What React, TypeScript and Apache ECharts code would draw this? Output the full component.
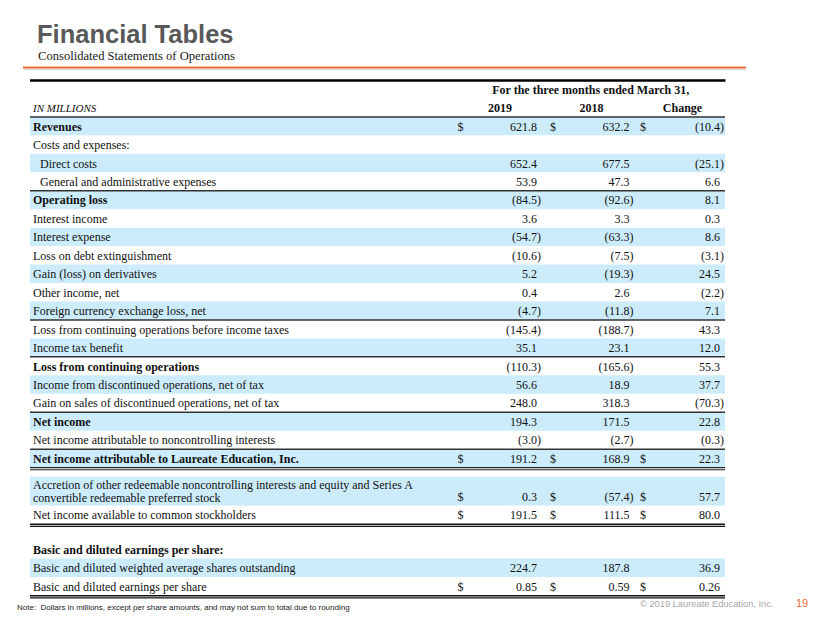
import React, { useEffect, useRef } from "react";
import * as echarts from "echarts";

// ---------- DATA ----------
const rowLabels: string[] = [
  "Revenues",
  "Costs and expenses:",
  "Direct costs",
  "General and administrative expenses",
  "Operating loss",
  "Interest income",
  "Interest expense",
  "Loss on debt extinguishment",
  "Gain (loss) on derivatives",
  "Other income, net",
  "Foreign currency exchange loss, net",
  "Loss from continuing operations before income taxes",
  "Income tax benefit",
  "Loss from continuing operations",
  "Income from discontinued operations, net of tax",
  "Gain on sales of discontinued operations, net of tax",
  "Net income",
  "Net income attributable to noncontrolling interests",
  "Net income attributable to Laureate Education, Inc.",
  "Accretion of other redeemable noncontrolling interests and equity and Series A\nconvertible redeemable preferred stock",
  "Net income available to common stockholders",
  "Basic and diluted earnings per share:",
  "Basic and diluted weighted average shares outstanding",
  "Basic and diluted earnings per share",
];
const values2019: (number | null)[] = [
  621.8, null, 652.4, 53.9, -84.5, 3.6, -54.7, -10.6, 5.2, 0.4, -4.7, -145.4, 35.1, -110.3, 56.6, 248.0, 194.3, -3.0, 191.2,
  0.3, 191.5, null, 224.7, 0.85,
];
const values2018: (number | null)[] = [
  632.2, null, 677.5, 47.3, -92.6, 3.3, -63.3, -7.5, -19.3, 2.6, -11.8, -188.7, 23.1, -165.6, 18.9, 318.3, 171.5, -2.7, 168.9,
  -57.4, 111.5, null, 187.8, 0.59,
];
const valuesChange: (number | null)[] = [
  -10.4, null, -25.1, 6.6, 8.1, 0.3, 8.6, -3.1, 24.5, -2.2, 7.1, 43.3, 12.0, 55.3, 37.7, -70.3, 22.8, -0.3, 22.3, 57.7,
  80.0, null, 36.9, 0.26,
];
const columnHeaders: string[] = ["2019", "2018", "Change"];
const periodHeader = "For the three months ended March 31,";
const unitsLabel = "IN MILLIONS";
const boldRows: number[] = [0, 4, 13, 16, 18, 21];
const indentRows: number[] = [2, 3];
const shadedRows: number[] = [0, 2, 4, 6, 8, 10, 12, 14, 16, 18, 19, 22];
const dollarRows: number[] = [0, 18, 19, 20, 23];
const twoDecimalRows: number[] = [23];
const titleText = "Financial Tables";
const subtitleText = "Consolidated Statements of Operations";
const noteText = "Note:  Dollars in millions, except per share amounts, and may not sum to total due to rounding";
const copyrightText = "\u00A9 2019 Laureate Education, Inc.";
const pageNumber = "19";

// ---------- LAYOUT (row units) ----------
const rowHeights = rowLabels.map((l) => (l.includes("\n") ? 1.56 : 1));
const gapBefore: Record<number, number> = { 19: 0.5, 21: 0.87 };
const ruleAbove: number[] = [0, 4, 11, 13, 16, 18];
const ruleBelow: Record<number, string> = { 18: "double", 20: "thick", 23: "thick" };
const rowTops: number[] = [];
{
  let acc = 0;
  rowHeights.forEach((h, i) => {
    acc += gapBefore[i] || 0;
    rowTops.push(acc);
    acc += h;
  });
}
const totalUnits = rowTops[rowTops.length - 1] + rowHeights[rowHeights.length - 1];

const SERIF = "'Liberation Serif', 'Times New Roman', serif";
const SANS = "'Liberation Sans', Arial, sans-serif";
const SHADE = "#CCECFC";
const INK = "#111111";
const TABLE_LEFT = 30;
const TABLE_RIGHT = 725;
const colDollarX = [457.5, 550, 640];
const colRightX = [537, 629.5, 720];
const colCenterX = [500, 591.5, 682.5];

function fmt(v: number, dec: number): string {
  const s = Math.abs(v).toFixed(dec);
  return v < 0 ? `(${s})` : s;
}

export default function App() {
  const ref = useRef<HTMLDivElement>(null);
  useEffect(() => {
    if (!ref.current) return;
    const chart = echarts.init(ref.current, undefined, { renderer: "svg" });
    const cols = [values2019, values2018, valuesChange];

    const option: any = {
      animation: false,
      backgroundColor: "#ffffff",
      grid: { left: TABLE_LEFT, right: 830 - TABLE_RIGHT, top: 80, bottom: 623 - 595.5 },
      xAxis: { type: "value", min: TABLE_LEFT, max: TABLE_RIGHT, show: false },
      yAxis: { type: "value", min: -2, max: totalUnits, inverse: true, show: false },
      series: [
        {
          type: "custom",
          clip: false,
          data: rowLabels.map((_, i) => [i]),
          renderItem: (params: any, api: any) => {
            const i = api.value(0) as number;
            const top = rowTops[i];
            const h = rowHeights[i];
            const pTop = api.coord([TABLE_LEFT, top]);
            const pBot = api.coord([TABLE_RIGHT, top + h]);
            const x0 = pTop[0];
            const x1 = pBot[0];
            const y0 = pTop[1];
            const y1 = pBot[1];
            const mid = (y0 + y1) / 2;
            const children: any[] = [];
            const bold = boldRows.includes(i);
            const font = `${bold ? "bold " : ""}12px ${SERIF}`;
            if (shadedRows.includes(i)) {
              children.push({
                type: "rect",
                z2: 0,
                shape: { x: x0, y: y0, width: x1 - x0, height: y1 - y0 },
                style: { fill: SHADE },
              });
            }
            const twoLine = rowLabels[i].includes("\n");
            children.push({
              type: "text",
              z2: 5,
              style: {
                text: rowLabels[i],
                x: x0 + (indentRows.includes(i) ? 10 : 3),
                y: mid + 0.5,
                font,
                fill: INK,
                align: "left",
                verticalAlign: "middle",
                lineHeight: 13,
              },
            });
            const valY = twoLine ? y1 - 8.5 : mid + 0.5;
            const dec = twoDecimalRows.includes(i) ? 2 : 1;
            cols.forEach((arr, c) => {
              const v = arr[i];
              if (v === null || v === undefined) return;
              children.push({
                type: "text",
                z2: 5,
                style: {
                  text: fmt(v, dec),
                  x: colRightX[c] + (v < 0 ? 4 : 0),
                  y: valY,
                  font: `12px ${SERIF}`,
                  fill: INK,
                  align: "right",
                  verticalAlign: "middle",
                },
              });
              if (dollarRows.includes(i)) {
                children.push({
                  type: "text",
                  z2: 5,
                  style: {
                    text: "$",
                    x: colDollarX[c],
                    y: valY,
                    font: `12px ${SERIF}`,
                    fill: INK,
                    align: "left",
                    verticalAlign: "middle",
                  },
                });
              }
            });
            if (ruleAbove.includes(i)) {
              children.push({
                type: "line",
                z2: 10,
                shape: { x1: x0, y1: y0, x2: x1, y2: y0 },
                style: { stroke: "#333333", lineWidth: 1.5 },
              });
            }
            const rb = ruleBelow[i];
            if (rb === "double") {
              children.push({
                type: "line",
                z2: 10,
                shape: { x1: x0, y1: y1, x2: x1, y2: y1 },
                style: { stroke: "#222222", lineWidth: 1.2 },
              });
              children.push({
                type: "line",
                z2: 10,
                shape: { x1: x0, y1: y1 + 2.2, x2: x1, y2: y1 + 2.2 },
                style: { stroke: "#222222", lineWidth: 1 },
              });
            } else if (rb === "thick") {
              children.push({
                type: "line",
                z2: 10,
                shape: { x1: x0, y1: y1 + 0.2, x2: x1, y2: y1 + 0.2 },
                style: { stroke: "#111111", lineWidth: 1.5 },
              });
              children.push({
                type: "line",
                z2: 10,
                shape: { x1: x0, y1: y1 + 2.4, x2: x1, y2: y1 + 2.4 },
                style: { stroke: "#111111", lineWidth: 1.2 },
              });
            }
            if (i === 0) {
              const hp = api.coord([TABLE_LEFT, -1.46]);
              const yp = api.coord([TABLE_LEFT, -0.48]);
              children.push({
                type: "text",
                z2: 5,
                style: {
                  text: periodHeader,
                  x: (colCenterX[0] + colCenterX[2]) / 2 - 0.5,
                  y: hp[1],
                  font: `bold 12px ${SERIF}`,
                  fill: INK,
                  align: "center",
                  verticalAlign: "middle",
                },
              });
              columnHeaders.forEach((t, c) => {
                children.push({
                  type: "text",
                  z2: 5,
                  style: {
                    text: t,
                    x: colCenterX[c],
                    y: yp[1],
                    font: `bold 12px ${SERIF}`,
                    fill: INK,
                    align: "center",
                    verticalAlign: "middle",
                  },
                });
              });
              children.push({
                type: "text",
                z2: 5,
                style: {
                  text: unitsLabel,
                  x: x0 + 3,
                  y: yp[1],
                  font: `italic 11px ${SERIF}`,
                  fill: INK,
                  align: "left",
                  verticalAlign: "middle",
                },
              });
            }
            return { type: "group", children };
          },
        },
      ],
      graphic: [
        {
          type: "text",
          x: 37,
          y: 33.5,
          style: {
            text: titleText,
            font: `bold 25.5px ${SANS}`,
            fill: "#595959",
            align: "left",
            verticalAlign: "middle",
          },
        },
        {
          type: "text",
          x: 38,
          y: 55.5,
          style: {
            text: subtitleText,
            font: `12.6px ${SERIF}`,
            fill: "#1a1a1a",
            align: "left",
            verticalAlign: "middle",
          },
        },
        {
          type: "line",
          shape: { x1: 24, y1: 69.5, x2: 746, y2: 69.5 },
          style: { stroke: "#cccccc", lineWidth: 1.5, opacity: 0.7 },
        },
        {
          type: "line",
          shape: { x1: 23, y1: 67.5, x2: 746, y2: 67.5 },
          style: { stroke: "#EC6A3A", lineWidth: 2 },
        },
        {
          type: "line",
          shape: { x1: 30, y1: 80.5, x2: 725.5, y2: 80.5 },
          style: { stroke: "#000000", lineWidth: 2.5 },
        },
        {
          type: "text",
          left: 17,
          top: 603,
          style: { text: noteText, font: `8px ${SANS}`, fill: "#222222" },
        },
        {
          type: "text",
          left: 640,
          top: 599,
          style: { text: copyrightText, font: `9.3px ${SANS}`, fill: "#A6A6A6" },
        },
        {
          type: "text",
          left: 796,
          top: 597,
          style: { text: pageNumber, font: `11px ${SANS}`, fill: "#EC6A3A" },
        },
      ],
    };
    chart.setOption(option);
    return () => chart.dispose();
  }, []);
  return (
    <div
      ref={ref}
      style={{ position: "fixed", left: 0, top: 0, width: 830, height: 623, background: "#fff" }}
    />
  );
}
